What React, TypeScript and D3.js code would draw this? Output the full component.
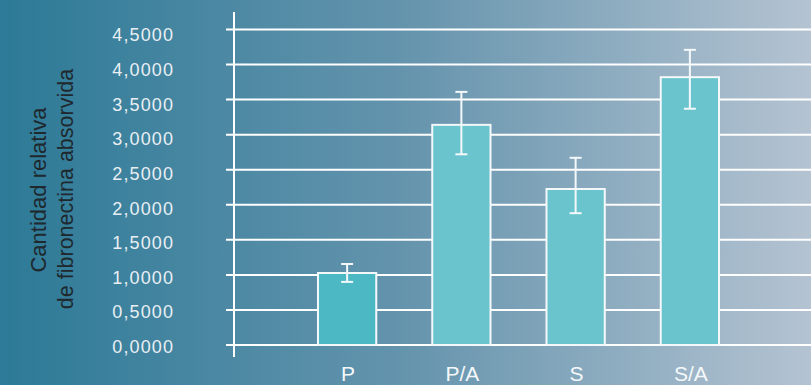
import React, { useEffect, useRef } from "react";
import * as d3 from "d3";

// data
const categories = ["P", "P/A", "S", "S/A"];
const values = [1.027, 3.14, 2.225, 3.82];
const errHigh = [1.155, 3.61, 2.67, 4.21];
const errLow = [0.9, 2.72, 1.88, 3.37];
const yTicks = [0, 0.5, 1, 1.5, 2, 2.5, 3, 3.5, 4, 4.5];
const barColors = ["#4bb8c4", "#6ac4cd", "#6ac4cd", "#6ac4cd"];

const width = 811,
  height = 385;

export default function App() {
  const ref = useRef<SVGSVGElement>(null);

  useEffect(() => {
    const svg = d3.select(ref.current);
    svg.selectAll("*").remove();

    // background gradient
    const grad = svg
      .append("defs")
      .append("linearGradient")
      .attr("id", "bg")
      .attr("x1", "0")
      .attr("x2", "1")
      .attr("y1", "0")
      .attr("y2", "0");
    grad.append("stop").attr("offset", "0").attr("stop-color", "#2c7a97");
    grad.append("stop").attr("offset", "0.5").attr("stop-color", "#6594ad");
    grad.append("stop").attr("offset", "1").attr("stop-color", "#b4c3d2");
    svg
      .append("rect")
      .attr("width", width)
      .attr("height", height)
      .attr("fill", "url(#bg)");

    const y = d3.scaleLinear().domain([0, 4.5]).range([345, 29.5]);
    // labels sit on a slightly tighter spacing than the gridlines
    const yLab = d3.scaleLinear().domain([0, 4.5]).range([346.5, 35]);
    const x = d3
      .scaleBand()
      .domain(categories)
      .range([290, 747])
      .paddingInner(0.49)
      .paddingOuter(0.245);

    const font = "'Liberation Sans', Arial, Helvetica, sans-serif";
    const fmt = (d: number) => d.toFixed(4).replace(".", ",");

    // gridlines
    svg
      .append("g")
      .selectAll("line")
      .data(yTicks)
      .enter()
      .append("line")
      .attr("x1", 226)
      .attr("x2", width)
      .attr("y1", d => y(d))
      .attr("y2", d => y(d))
      .attr("stroke", "#ffffff")
      .attr("stroke-width", 2);

    // y axis line
    svg
      .append("line")
      .attr("x1", 234)
      .attr("x2", 234)
      .attr("y1", 12)
      .attr("y2", 357)
      .attr("stroke", "#ffffff")
      .attr("stroke-width", 2);

    // tick labels
    svg
      .append("g")
      .selectAll("text")
      .data(yTicks)
      .enter()
      .append("text")
      .attr("x", 174)
      .attr("y", d => yLab(d))
      .attr("dy", "0.36em")
      .attr("text-anchor", "end")
      .attr("fill", "#e9eff3")
      .style("font-family", font)
      .style("font-size", "18px")
      .style("letter-spacing", "1.1px")
      .text(d => fmt(d));

    // y title, two lines
    svg
      .append("text")
      .attr("transform", "translate(46,190) rotate(-90)")
      .attr("text-anchor", "middle")
      .attr("fill", "#1e282d")
      .style("font-family", font)
      .style("font-size", "22px")
      .text("Cantidad relativa");
    svg
      .append("text")
      .attr("transform", "translate(73,189) rotate(-90)")
      .attr("text-anchor", "middle")
      .attr("fill", "#1e282d")
      .style("font-family", font)
      .style("font-size", "21.5px")
      .text("de fibronectina absorvida");

    // bars
    svg
      .append("g")
      .selectAll("rect")
      .data(categories)
      .enter()
      .append("rect")
      .attr("x", d => x(d)!)
      .attr("y", (d, i) => y(values[i]))
      .attr("width", x.bandwidth())
      .attr("height", (d, i) => y(0) - y(values[i]))
      .attr("fill", (d, i) => barColors[i])
      .attr("stroke", "#f4f8fa")
      .attr("stroke-width", 2);

    // error bars
    const eb = svg
      .append("g")
      .selectAll("g")
      .data(categories)
      .enter()
      .append("g")
      .attr("stroke", "#f4f8fa")
      .attr("stroke-width", 2);
    const cx = (d: string) => x(d)! + x.bandwidth() / 2;
    eb.append("line")
      .attr("x1", cx)
      .attr("x2", cx)
      .attr("y1", (d, i) => y(errHigh[i]))
      .attr("y2", (d, i) => y(errLow[i]));
    eb.append("line")
      .attr("x1", d => cx(d) - 6)
      .attr("x2", d => cx(d) + 6)
      .attr("y1", (d, i) => y(errHigh[i]))
      .attr("y2", (d, i) => y(errHigh[i]));
    eb.append("line")
      .attr("x1", d => cx(d) - 6)
      .attr("x2", d => cx(d) + 6)
      .attr("y1", (d, i) => y(errLow[i]))
      .attr("y2", (d, i) => y(errLow[i]));

    // category labels
    svg
      .append("g")
      .selectAll("text")
      .data(categories)
      .enter()
      .append("text")
      .attr("x", d => cx(d) + 1)
      .attr("y", 381)
      .attr("text-anchor", "middle")
      .attr("fill", "#f4f8fa")
      .style("font-family", font)
      .style("font-size", "21px")
      .text(d => d);
  }, []);

  return (
    <svg
      ref={ref}
      width={width}
      height={height}
      style={{ position: "absolute", left: 0, top: 0, display: "block" }}
    />
  );
}
